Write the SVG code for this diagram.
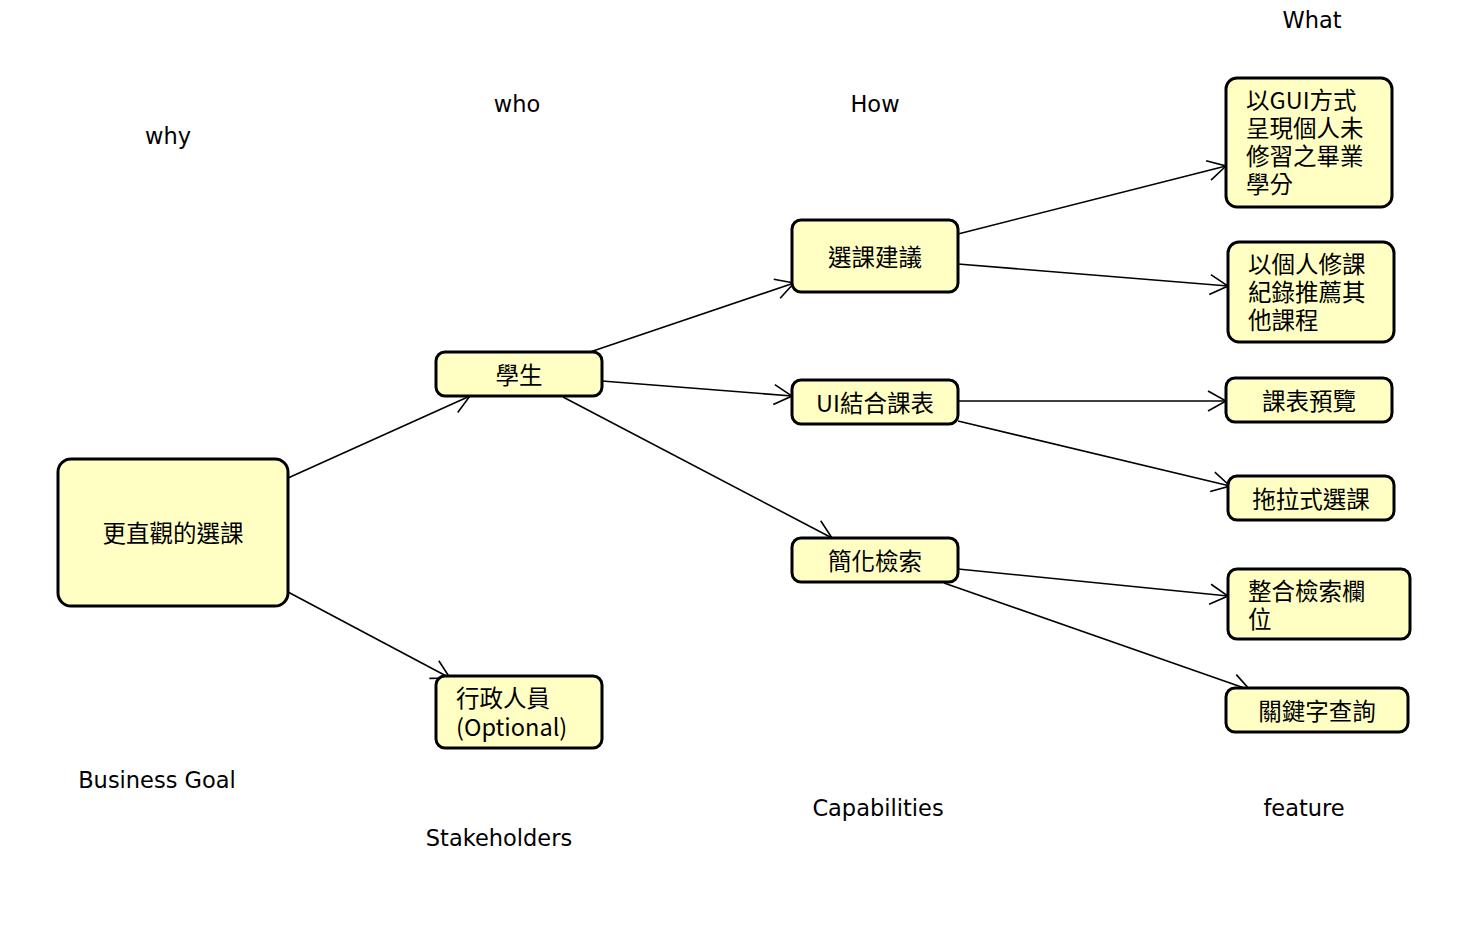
<svg xmlns="http://www.w3.org/2000/svg" width="1462" height="934" viewBox="0 0 1462 934">
<defs>
<marker id="arr" markerUnits="userSpaceOnUse" markerWidth="24" markerHeight="24" refX="20" refY="11" orient="auto" viewBox="0 0 24 22">
<path d="M2,1 L20,11 L2,21" fill="none" stroke="#000" stroke-width="1.6"/>
</marker>
<style>
.n{fill:#ffffc4;stroke:#000;stroke-width:3}
.t{font-family:"Noto Sans CJK TC","DejaVu Sans",sans-serif;font-size:23.5px;fill:#000}
.l{font-family:"DejaVu Sans",sans-serif;font-size:22.5px;fill:#000}
.c{fill:none;stroke:#000;stroke-width:1.6;marker-end:url(#arr)}
</style>
</defs>
<rect width="1462" height="934" fill="#fff"/>
<g id="labels">
<text class="l" x="1312" y="28" text-anchor="middle">What</text>
<text class="l" x="517" y="112" text-anchor="middle">who</text>
<text class="l" x="875" y="112" text-anchor="middle">How</text>
<text class="l" x="168" y="144" text-anchor="middle">why</text>
<text class="l" x="157" y="788" text-anchor="middle">Business Goal</text>
<text class="l" x="499" y="846" text-anchor="middle">Stakeholders</text>
<text class="l" x="878" y="816" text-anchor="middle">Capabilities</text>
<text class="l" x="1304" y="816" text-anchor="middle">feature</text>
</g>
<g id="connectors">
<line class="c" x1="288" y1="478" x2="470" y2="396"/>
<line class="c" x1="288" y1="592" x2="450" y2="678"/>
<line class="c" x1="590" y1="352" x2="794" y2="283"/>
<line class="c" x1="602" y1="381" x2="792" y2="396"/>
<line class="c" x1="563" y1="397" x2="832" y2="538"/>
<line class="c" x1="958" y1="234" x2="1226" y2="166"/>
<line class="c" x1="958" y1="264" x2="1228" y2="286"/>
<line class="c" x1="958" y1="401" x2="1226" y2="401"/>
<line class="c" x1="958" y1="421" x2="1230" y2="486"/>
<line class="c" x1="958" y1="569" x2="1228" y2="596"/>
<line class="c" x1="944" y1="583" x2="1250" y2="690"/>
</g>
<g id="n-goal"><rect class="n" x="58" y="459" width="230" height="147" rx="13"/><text class="t" x="173" y="542" text-anchor="middle">更直觀的選課</text></g>
<g id="n-student"><rect class="n" x="436" y="352" width="166" height="44" rx="9"/><text class="t" x="519" y="384" text-anchor="middle">學生</text></g>
<g id="n-admin"><rect class="n" x="436" y="676" width="166" height="72" rx="9"/><text class="t"><tspan x="456" y="707">行政人員</tspan><tspan x="456" y="736">(Optional)</tspan></text></g>
<g id="n-suggest"><rect class="n" x="792" y="220" width="166" height="72" rx="9"/><text class="t" x="875" y="266" text-anchor="middle">選課建議</text></g>
<g id="n-ui"><rect class="n" x="792" y="380" width="166" height="44" rx="9"/><text class="t" x="875" y="412" text-anchor="middle">UI結合課表</text></g>
<g id="n-search"><rect class="n" x="792" y="538" width="166" height="44" rx="9"/><text class="t" x="875" y="570" text-anchor="middle">簡化檢索</text></g>
<g id="n-gui"><rect class="n" x="1226" y="78" width="166" height="129" rx="11"/><text class="t"><tspan x="1246" y="109">以GUI方式</tspan><tspan x="1246" y="137">呈現個人未</tspan><tspan x="1246" y="165">修習之畢業</tspan><tspan x="1246" y="193">學分</tspan></text></g>
<g id="n-recommend"><rect class="n" x="1228" y="242" width="166" height="100" rx="11"/><text class="t"><tspan x="1248" y="273">以個人修課</tspan><tspan x="1248" y="301">紀錄推薦其</tspan><tspan x="1248" y="329">他課程</tspan></text></g>
<g id="n-preview"><rect class="n" x="1226" y="378" width="166" height="44" rx="9"/><text class="t" x="1309" y="410" text-anchor="middle">課表預覽</text></g>
<g id="n-drag"><rect class="n" x="1228" y="476" width="166" height="44" rx="9"/><text class="t" x="1311" y="508" text-anchor="middle">拖拉式選課</text></g>
<g id="n-field"><rect class="n" x="1228" y="569" width="182" height="70" rx="9"/><text class="t"><tspan x="1248" y="600">整合檢索欄</tspan><tspan x="1248" y="628">位</tspan></text></g>
<g id="n-keyword"><rect class="n" x="1226" y="688" width="182" height="44" rx="9"/><text class="t" x="1317" y="720" text-anchor="middle">關鍵字查詢</text></g>
</svg>
